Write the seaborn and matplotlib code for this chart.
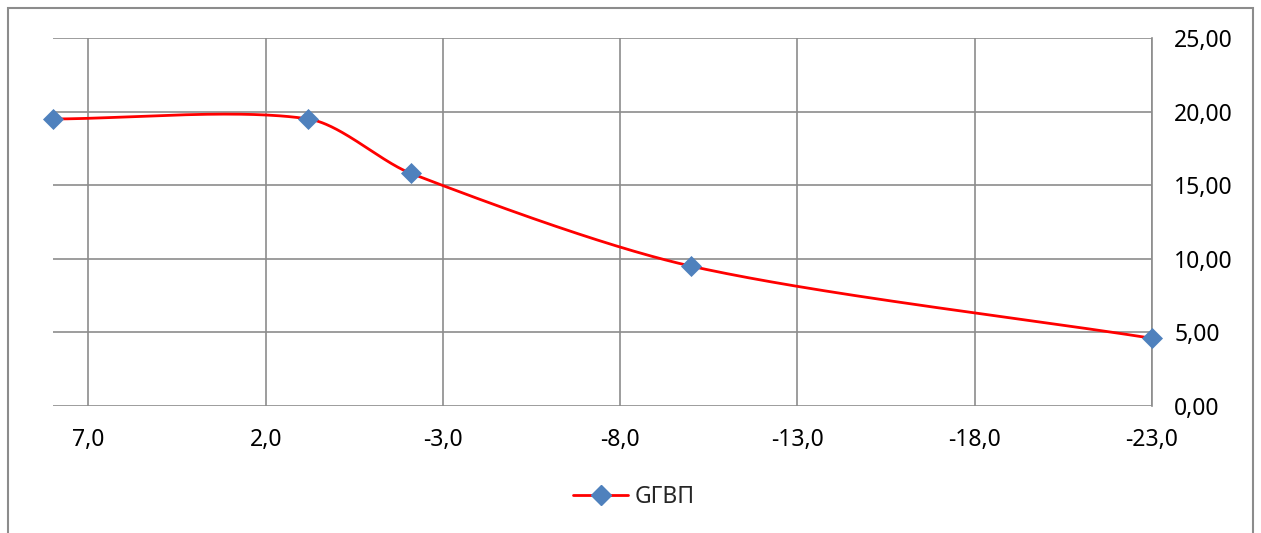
import numpy as np
import pandas as pd
import matplotlib
matplotlib.use("Agg")
import matplotlib.pyplot as plt
import matplotlib.patches as mpatches
from matplotlib.lines import Line2D
import seaborn as sns

# ---- data ----
x_vals = [8.0, 0.8, -2.1, -10.0, -23.0]
y_vals = [19.5, 19.5, 15.8, 9.5, 4.6]
series_name = "GГВП"
x_ticks = [7, 2, -3, -8, -13, -18, -23]
y_ticks = [0, 5, 10, 15, 20, 25]

sns.set_style("white")
plt.rcParams['font.family'] = ['Noto Sans', 'DejaVu Sans']

W, H = 1261, 533
fig = plt.figure(figsize=(W / 100, H / 100), dpi=100)
ax = fig.add_axes([53 / W, 1 - 406 / H, (1152 - 53) / W, (406 - 38) / H])
ax.set_xlim(8, -23)
ax.set_ylim(0, 25)

# smoothed line through the points (Bezier, handles scaled by segment length,
# computed in display space like spreadsheet smoothing)
P = np.column_stack([x_vals, y_vals])
sx = (1152 - 53) / (8 - (-23))
sy = (406 - 38) / 25.0
Q = np.column_stack([P[:, 0] * sx, P[:, 1] * sy])
n = len(Q)
tension = 0.85
tang = []
for i in range(n):
    a = Q[max(i - 1, 0)]
    b = Q[min(i + 1, n - 1)]
    d = b - a
    tang.append(d / np.linalg.norm(d))
tang = np.array(tang)
xs, ys = [], []
t = np.linspace(0, 1, 80)
for i in range(n - 1):
    p0, p3 = Q[i], Q[i + 1]
    L = np.linalg.norm(p3 - p0)
    c1 = p0 + tang[i] * tension * L / 3.0
    c2 = p3 - tang[i + 1] * tension * L / 3.0
    b = ((1 - t) ** 3)[:, None] * p0 + (3 * (1 - t) ** 2 * t)[:, None] * c1 \
        + (3 * (1 - t) * t ** 2)[:, None] * c2 + (t ** 3)[:, None] * p3
    xs.extend(b[:, 0] / sx); ys.extend(b[:, 1] / sy)
curve = pd.DataFrame({"x": xs, "y": ys})
pts = pd.DataFrame({"x": x_vals, "y": y_vals})

red = "#ff0000"
blue = "#4f81bd"
sns.lineplot(data=curve, x="x", y="y", sort=False, color=red, lw=2.0, ax=ax,
             zorder=3, legend=False)
sns.scatterplot(data=pts, x="x", y="y", marker="D", s=115, color=blue,
                edgecolor=blue, linewidth=0, ax=ax, zorder=4, legend=False,
                clip_on=False)

ax.set_xlim(8, -23)
ax.set_ylim(0, 25)
ax.set_xticks(x_ticks)
ax.set_yticks(y_ticks)
ax.set_xticklabels([f"{v:.1f}".replace(".", ",") for v in x_ticks])
ax.set_yticklabels([f"{v:.2f}".replace(".", ",") for v in y_ticks])
ax.yaxis.tick_right()
ax.tick_params(axis="both", length=0, labelsize=16.5, colors="black")
ax.tick_params(axis="x", pad=16)
ax.tick_params(axis="y", pad=16)
ax.set_xlabel("")
ax.set_ylabel("")

grid_c = "#8c8c8c"
ax.grid(True, color=grid_c, lw=1.2)
ax.set_axisbelow(True)
for s in ["top", "left", "bottom"]:
    ax.spines[s].set_visible(False)
ax.spines["right"].set_color(grid_c)
ax.spines["right"].set_linewidth(1.2)

# outer chart border
fig.patches.append(mpatches.Rectangle((7.5 / W, -0.1), (1253 - 7.5) / W, 1.1 - 8 / H,
                                      transform=fig.transFigure, fill=False,
                                      edgecolor="#8c8c8c", lw=1.5, clip_on=False))

handle = Line2D([], [], color=red, lw=2.0, marker="D", markersize=10,
                markerfacecolor=blue, markeredgecolor=blue)
fig.legend([handle], [series_name], loc="center", bbox_to_anchor=(634 / W, 1 - 497 / H),
           frameon=False, fontsize=16.5, handlelength=2.4, handletextpad=0.3)

fig.savefig("out.png", dpi=100)
